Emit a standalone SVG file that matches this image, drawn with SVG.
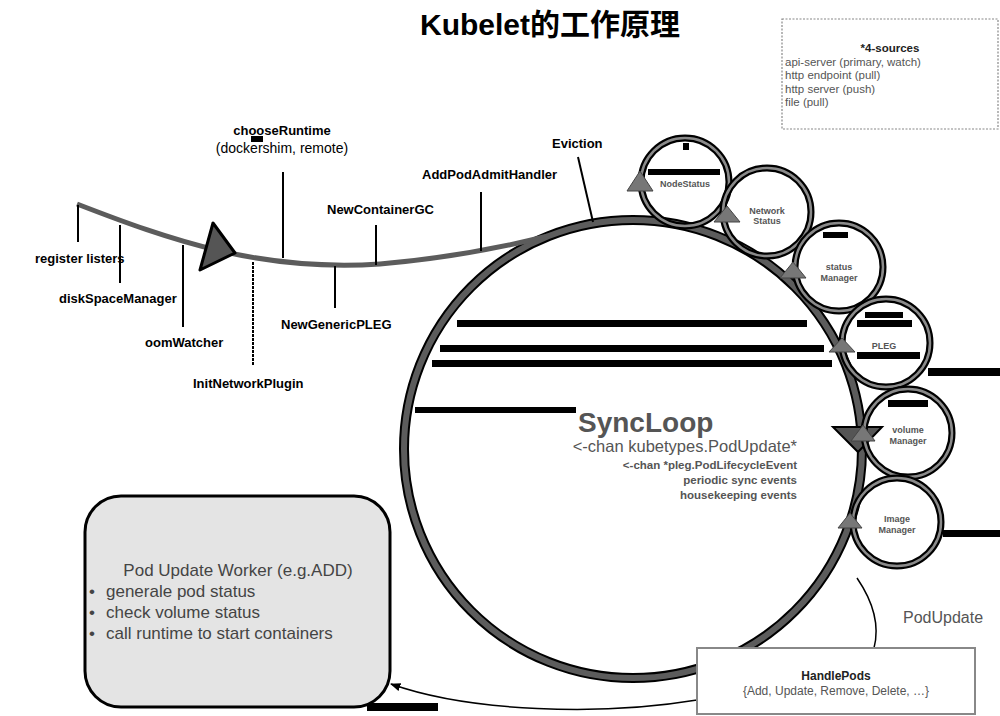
<svg xmlns="http://www.w3.org/2000/svg" width="1000" height="716" viewBox="0 0 1000 716">
<defs>
<style>
.lbl{font-family:"Liberation Sans",Arial,sans-serif;font-weight:bold;font-size:13px;fill:#000}
.tick{stroke:#000;stroke-width:2;fill:none}
.bar{fill:#000}
.ring-o{fill:none;stroke:#000;stroke-width:7}
.ring-i{fill:none;stroke:#8a8a8a;stroke-width:2.5}
.small{font-family:"Liberation Sans",Arial,sans-serif;font-weight:bold;font-size:9px;fill:#555;text-anchor:middle}
.tri{fill:#777;stroke:#444;stroke-width:1}
.src{font-family:"Liberation Sans",Arial,sans-serif;font-size:11.5px;fill:#555}
.wk{font-family:"Liberation Sans",Arial,sans-serif;font-size:17px;fill:#444}
.sl{font-family:"Liberation Sans",Arial,sans-serif;fill:#555;text-anchor:end}
</style>
<marker id="arr" viewBox="0 0 10 10" refX="9" refY="5" markerWidth="7" markerHeight="7" orient="auto-start-reverse">
<path d="M0,1 L10,5 L0,9 z" fill="#000"/>
</marker>
</defs>
<rect width="1000" height="716" fill="#fff"/>
<text x="550" y="35" text-anchor="middle" font-family="'Liberation Sans','Noto Sans CJK SC',sans-serif" font-weight="bold" font-size="30" fill="#000">Kubelet的工作原理</text>

<g id="sources">
<rect x="782" y="19" width="216" height="110" fill="#fff" stroke="#888" stroke-width="1.2" stroke-dasharray="2,1.5"/>
<text x="890" y="52" text-anchor="middle" class="src" font-weight="bold" style="fill:#222">*4-sources</text>
<text x="785" y="66" class="src">api-server (primary, watch)</text>
<text x="785" y="79" class="src">http endpoint (pull)</text>
<text x="785" y="93" class="src">http server (push)</text>
<text x="785" y="106" class="src">file (pull)</text>
</g>

<g id="syncloop">
<circle cx="633" cy="449" r="229" fill="none" stroke="#000" stroke-width="10"/>
<circle cx="633" cy="449" r="229" fill="none" stroke="#5c5c5c" stroke-width="6"/>
<rect class="bar" x="457" y="320" width="350" height="7"/>
<rect class="bar" x="440" y="345" width="384" height="7"/>
<rect class="bar" x="432" y="360" width="400" height="7"/>
<rect class="bar" x="415" y="407" width="161" height="6"/>
<text x="578" y="432" font-family="'Liberation Sans',Arial,sans-serif" font-weight="bold" font-size="28" fill="#555">SyncLoop</text>
<text x="797" y="452" class="sl" font-size="16.5">&lt;-chan kubetypes.PodUpdate*</text>
<text x="797" y="469" class="sl" font-size="11.5" font-weight="bold">&lt;-chan *pleg.PodLifecycleEvent</text>
<text x="797" y="484" class="sl" font-size="11.5" font-weight="bold">periodic sync events</text>
<text x="797" y="499" class="sl" font-size="11.5" font-weight="bold">housekeeping events</text>
<polygon points="833,427 882,427 858,452" fill="#555" stroke="#000" stroke-width="2"/>
</g>

<g id="init-line">
<path d="M77,204 C170,240 260,272 380,264 C450,258 500,248 548,236" fill="none" stroke="#5c5c5c" stroke-width="5"/>
<polygon points="213,223 200,270 235,253" fill="#555" stroke="#000" stroke-width="3" stroke-linejoin="round"/>
</g>

<g id="register-listers">
<line class="tick" x1="78" y1="205" x2="78" y2="242"/>
<text x="35" y="263" class="lbl">register listers</text>
</g>
<g id="diskSpaceManager">
<line class="tick" x1="120" y1="225" x2="120" y2="283"/>
<text x="59" y="303" class="lbl">diskSpaceManager</text>
</g>
<g id="oomWatcher">
<line class="tick" x1="183" y1="245" x2="183" y2="327"/>
<text x="145" y="347" class="lbl">oomWatcher</text>
</g>
<g id="InitNetworkPlugin">
<line class="tick" x1="253" y1="262" x2="253" y2="365" stroke-dasharray="3,1"/>
<text x="193" y="388" class="lbl">InitNetworkPlugin</text>
</g>
<g id="chooseRuntime">
<line class="tick" x1="283" y1="172" x2="283" y2="258"/>
<text x="282" y="135" class="lbl" text-anchor="middle">chooseRuntime</text>
<rect class="bar" x="251" y="136" width="12" height="6"/>
<text x="282" y="153" class="lbl" text-anchor="middle" style="font-weight:normal;font-size:14px">(dockershim, remote)</text>
</g>
<g id="NewGenericPLEG">
<line class="tick" x1="335" y1="266" x2="335" y2="308"/>
<text x="281" y="329" class="lbl">NewGenericPLEG</text>
</g>
<g id="NewContainerGC">
<line class="tick" x1="376" y1="225" x2="376" y2="265"/>
<text x="327" y="214" class="lbl">NewContainerGC</text>
</g>
<g id="AddPodAdmitHandler">
<line class="tick" x1="481" y1="192" x2="481" y2="251"/>
<text x="422" y="179" class="lbl">AddPodAdmitHandler</text>
</g>
<g id="Eviction">
<line class="tick" x1="578" y1="157" x2="593" y2="222"/>
<text x="552" y="148" class="lbl">Eviction</text>
</g>

<g id="nodestatus">
<circle class="ring-o" cx="685" cy="182" r="44"/>
<circle class="ring-i" cx="685" cy="182" r="44"/>
<rect class="bar" x="683" y="143" width="6" height="7"/>
<rect class="bar" x="648" y="169" width="72" height="6"/>
<text x="685" y="187" class="small">NodeStatus</text>
<polygon class="tri" points="640,171 627,191 653,191"/>
</g>
<g id="networkstatus">
<circle class="ring-o" cx="767" cy="212" r="44"/>
<circle class="ring-i" cx="767" cy="212" r="44"/>
<text x="767" y="214" class="small">Network</text>
<text x="767" y="224" class="small">Status</text>
<polygon class="tri" points="727,206 714,222 740,222"/>
</g>
<g id="statusmanager">
<circle class="ring-o" cx="839" cy="267" r="44"/>
<circle class="ring-i" cx="839" cy="267" r="44"/>
<rect class="bar" x="823" y="232" width="25" height="6"/>
<text x="839" y="270" class="small">status</text>
<text x="839" y="281" class="small">Manager</text>
<polygon class="tri" points="793,262 780,278 806,278"/>
</g>
<g id="pleg">
<circle class="ring-o" cx="886" cy="343" r="44"/>
<circle class="ring-i" cx="886" cy="343" r="44"/>
<rect class="bar" x="865" y="312" width="38" height="6"/>
<rect class="bar" x="857" y="320" width="55" height="7"/>
<rect class="bar" x="857" y="352" width="63" height="7"/>
<rect class="bar" x="928" y="368" width="72" height="8"/>
<text x="884" y="349" class="small">PLEG</text>
<polygon class="tri" points="842,338 829,352 855,352"/>
</g>
<g id="volumemanager">
<circle class="ring-o" cx="908" cy="433" r="44"/>
<circle class="ring-i" cx="908" cy="433" r="44"/>
<rect class="bar" x="888" y="400" width="40" height="7"/>
<text x="908" y="433" class="small">volume</text>
<text x="908" y="444" class="small">Manager</text>
<polygon class="tri" points="863,425 851,441 875,441"/>
</g>
<g id="imagemanager">
<circle class="ring-o" cx="897" cy="522" r="44"/>
<circle class="ring-i" cx="897" cy="522" r="44"/>
<rect class="bar" x="943" y="530" width="57" height="7"/>
<text x="897" y="522" class="small">Image</text>
<text x="897" y="533" class="small">Manager</text>
<polygon class="tri" points="850,513 838,528 862,528"/>
</g>

<g id="connectors">
<path d="M857,578 C872,600 880,625 874,648" fill="none" stroke="#000" stroke-width="1.5"/>
<path d="M697,700 C600,716 470,712 391,684" fill="none" stroke="#000" stroke-width="1.5" marker-end="url(#arr)"/>
</g>

<g id="worker">
<rect x="85" y="496" width="305" height="211" rx="36" ry="36" fill="#e4e4e4" stroke="#000" stroke-width="3"/>
<text x="238" y="576" text-anchor="middle" class="wk">Pod Update Worker (e.g.ADD)</text>
<text x="89" y="597" class="wk">•</text>
<text x="106" y="597" class="wk">generale pod status</text>
<text x="89" y="618" class="wk">•</text>
<text x="106" y="618" class="wk">check volume status</text>
<text x="89" y="639" class="wk">•</text>
<text x="106" y="639" class="wk">call runtime to start containers</text>
</g>
<rect class="bar" x="367" y="703" width="71" height="8"/>

<g id="podupdate">
<text x="903" y="623" font-family="'Liberation Sans',Arial,sans-serif" font-size="16" fill="#555">PodUpdate</text>
</g>

<g id="handlepods">
<rect x="697" y="648" width="278" height="66" fill="#fff" stroke="#888" stroke-width="2"/>
<text x="836" y="680" text-anchor="middle" font-family="'Liberation Sans',Arial,sans-serif" font-weight="bold" font-size="12" fill="#222">HandlePods</text>
<text x="836" y="695" text-anchor="middle" font-family="'Liberation Sans',Arial,sans-serif" font-size="12" fill="#555">{Add, Update, Remove, Delete, …}</text>
</g>
</svg>
